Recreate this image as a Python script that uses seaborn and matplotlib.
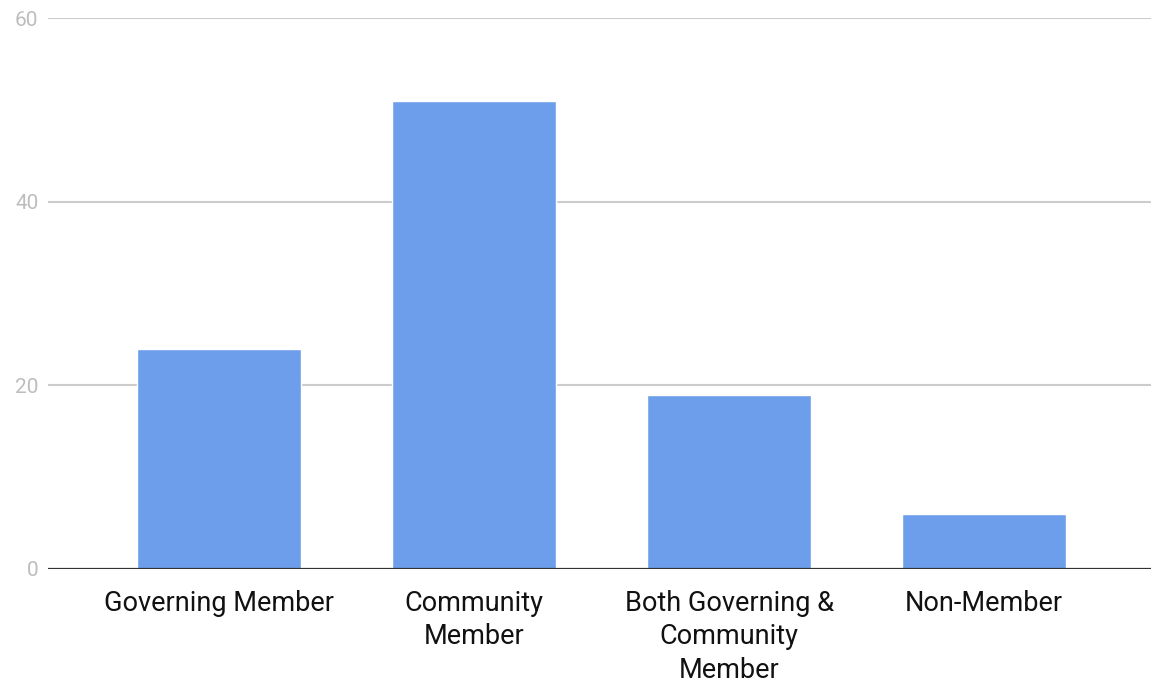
import matplotlib
matplotlib.use("Agg")
import matplotlib.pyplot as plt
import seaborn as sns
import pandas as pd

categories = ["Governing Member", "Community\nMember", "Both Governing &\nCommunity\nMember", "Non-Member"]
values = [24, 51, 19, 6]
yticks = [0, 20, 40, 60]

sns.set_theme(style="white")
plt.rcParams['font.family'] = ['Roboto', 'DejaVu Sans']

df = pd.DataFrame({"cat": categories, "val": values})

fig = plt.figure(figsize=(11.51, 6.82), dpi=100)
ax = fig.add_axes([48/1151, 1 - 569/682, 1 - 48/1151, (569 - 18)/682])

for y in yticks[1:]:
    ax.axhline(y, color="#cccccc", lw=1.5, zorder=0)

sns.barplot(data=df, x="cat", y="val", color="#6d9eeb", saturation=1, width=0.642, ax=ax, zorder=2)
ax.axhline(0, color="#333333", lw=1.6, zorder=3)

ax.set_xlim(-0.67, 3.654)
ax.set_ylim(0, 60)
ax.set_yticks(yticks)
ax.set_xlabel("")
ax.set_ylabel("")
for s in ax.spines.values():
    s.set_visible(False)
ax.tick_params(axis="y", length=0, pad=7, labelsize=15, labelcolor="#bdbdbd")
ax.tick_params(axis="x", length=0, pad=15, labelsize=19.5, labelcolor="#111111")
for lbl in ax.get_xticklabels():
    lbl.set_linespacing(1.31)
ax.patch.set_alpha(0)

fig.savefig("out.png", dpi=100)
